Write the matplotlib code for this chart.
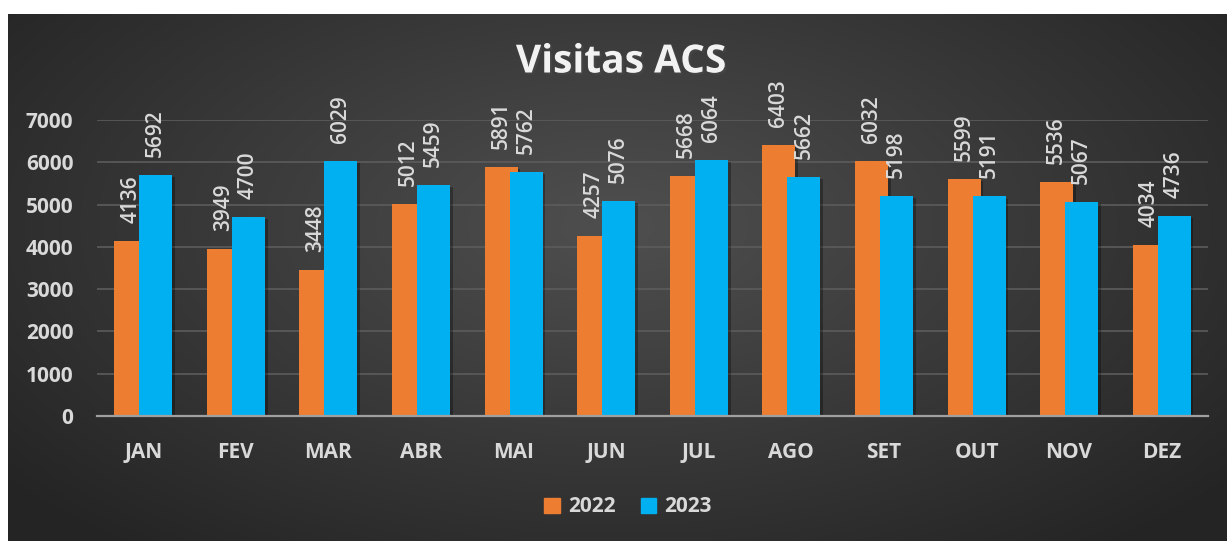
import numpy as np
import matplotlib; matplotlib.use("Agg")
import matplotlib.pyplot as plt
import matplotlib.patheffects as pe
from matplotlib.patches import Patch

months = ["JAN", "FEV", "MAR", "ABR", "MAI", "JUN", "JUL", "AGO", "SET", "OUT", "NOV", "DEZ"]
v2022 = [4136, 3949, 3448, 5012, 5891, 4257, 5668, 6403, 6032, 5599, 5536, 4034]
v2023 = [5692, 4700, 6029, 5459, 5762, 5076, 6064, 5662, 5198, 5191, 5067, 4736]
yticks = [0, 1000, 2000, 3000, 4000, 5000, 6000, 7000]

ORANGE = "#ed7d31"; BLUE = "#00b0f0"; TXT = "#d9d9d9"
plt.rcParams["font.family"] = ["Open Sans", "DejaVu Sans"]

W, H = 1227, 541
fig = plt.figure(figsize=(W/100, H/100), dpi=100, facecolor="white")

# dark radial gradient background (chart area starts a few px in from left/top)
bg = fig.add_axes([8/W, 0, 1-8/W, 527/H], zorder=-10)
yy, xx = np.mgrid[0:1:300j, 0:1:600j]
r = np.sqrt(((xx-0.5)/0.62)**2 + ((yy-0.6)/0.75)**2)
shade = np.clip(0.31 - 0.16*r, 0.145, 0.31)
bg.imshow(np.dstack([shade]*3), extent=[0, 1, 0, 1], aspect="auto", origin="lower")
bg.set_axis_off()

ax = fig.add_axes([97/W, 1-416/H, (1208-97)/W, (416-120)/H])
ax.set_facecolor("none")
x = np.arange(len(months))
bw, off = 0.356, 0.135
shadow = [pe.SimplePatchShadow(offset=(2, -1.5), shadow_rgbFace="black", alpha=0.3), pe.Normal()]
ax.bar(x-off, v2022, bw, color=ORANGE, zorder=3, path_effects=shadow)
ax.bar(x+off, v2023, bw, color=BLUE, zorder=4, path_effects=shadow)

for xs, vals in ((x-off, v2022), (x+off, v2023)):
    for xi, v in zip(xs, vals):
        ax.annotate(str(v), (xi, v), xytext=(0, 13), textcoords="offset points",
                    rotation=90, ha="center", va="bottom", color=TXT, fontsize=15,
                    fontweight="semibold", zorder=6)

ax.set_xlim(-0.5, len(months)-0.5)
ax.set_ylim(0, 7000)
ax.set_yticks(yticks)
ax.set_xticks(x, months)
ax.grid(axis="y", color="#5c5c5c", lw=1.2, zorder=0)
for s in ["top", "right", "left"]:
    ax.spines[s].set_visible(False)
ax.spines["bottom"].set_color("#a0a0a0"); ax.spines["bottom"].set_linewidth(1.6)
ax.spines["bottom"].set_zorder(5)
ax.tick_params(axis="y", length=0, pad=17, labelsize=15, labelcolor=TXT)
ax.tick_params(axis="x", length=0, pad=19, labelsize=15, labelcolor=TXT)
for t in ax.get_xticklabels() + ax.get_yticklabels():
    t.set_fontweight("bold")

fig.text(621/W, 1-62/H, "Visitas ACS", ha="center", va="center", fontsize=28,
         fontweight="bold", color="#f2f2f2",
         path_effects=[pe.SimplePatchShadow(offset=(1.5, -1.5), alpha=0.6), pe.Normal()])

handles = [Patch(color=ORANGE, label="2022"), Patch(color=BLUE, label="2023")]
leg = fig.legend(handles=handles, loc="center", bbox_to_anchor=(628/W, 1-507/H), ncol=2,
                 frameon=False, handlelength=0.75, handleheight=0.75, handletextpad=0.4,
                 columnspacing=1.2, prop={"size": 15, "weight": "bold"})
for t in leg.get_texts():
    t.set_color(TXT)

fig.savefig("out.png", dpi=100, facecolor="white")
